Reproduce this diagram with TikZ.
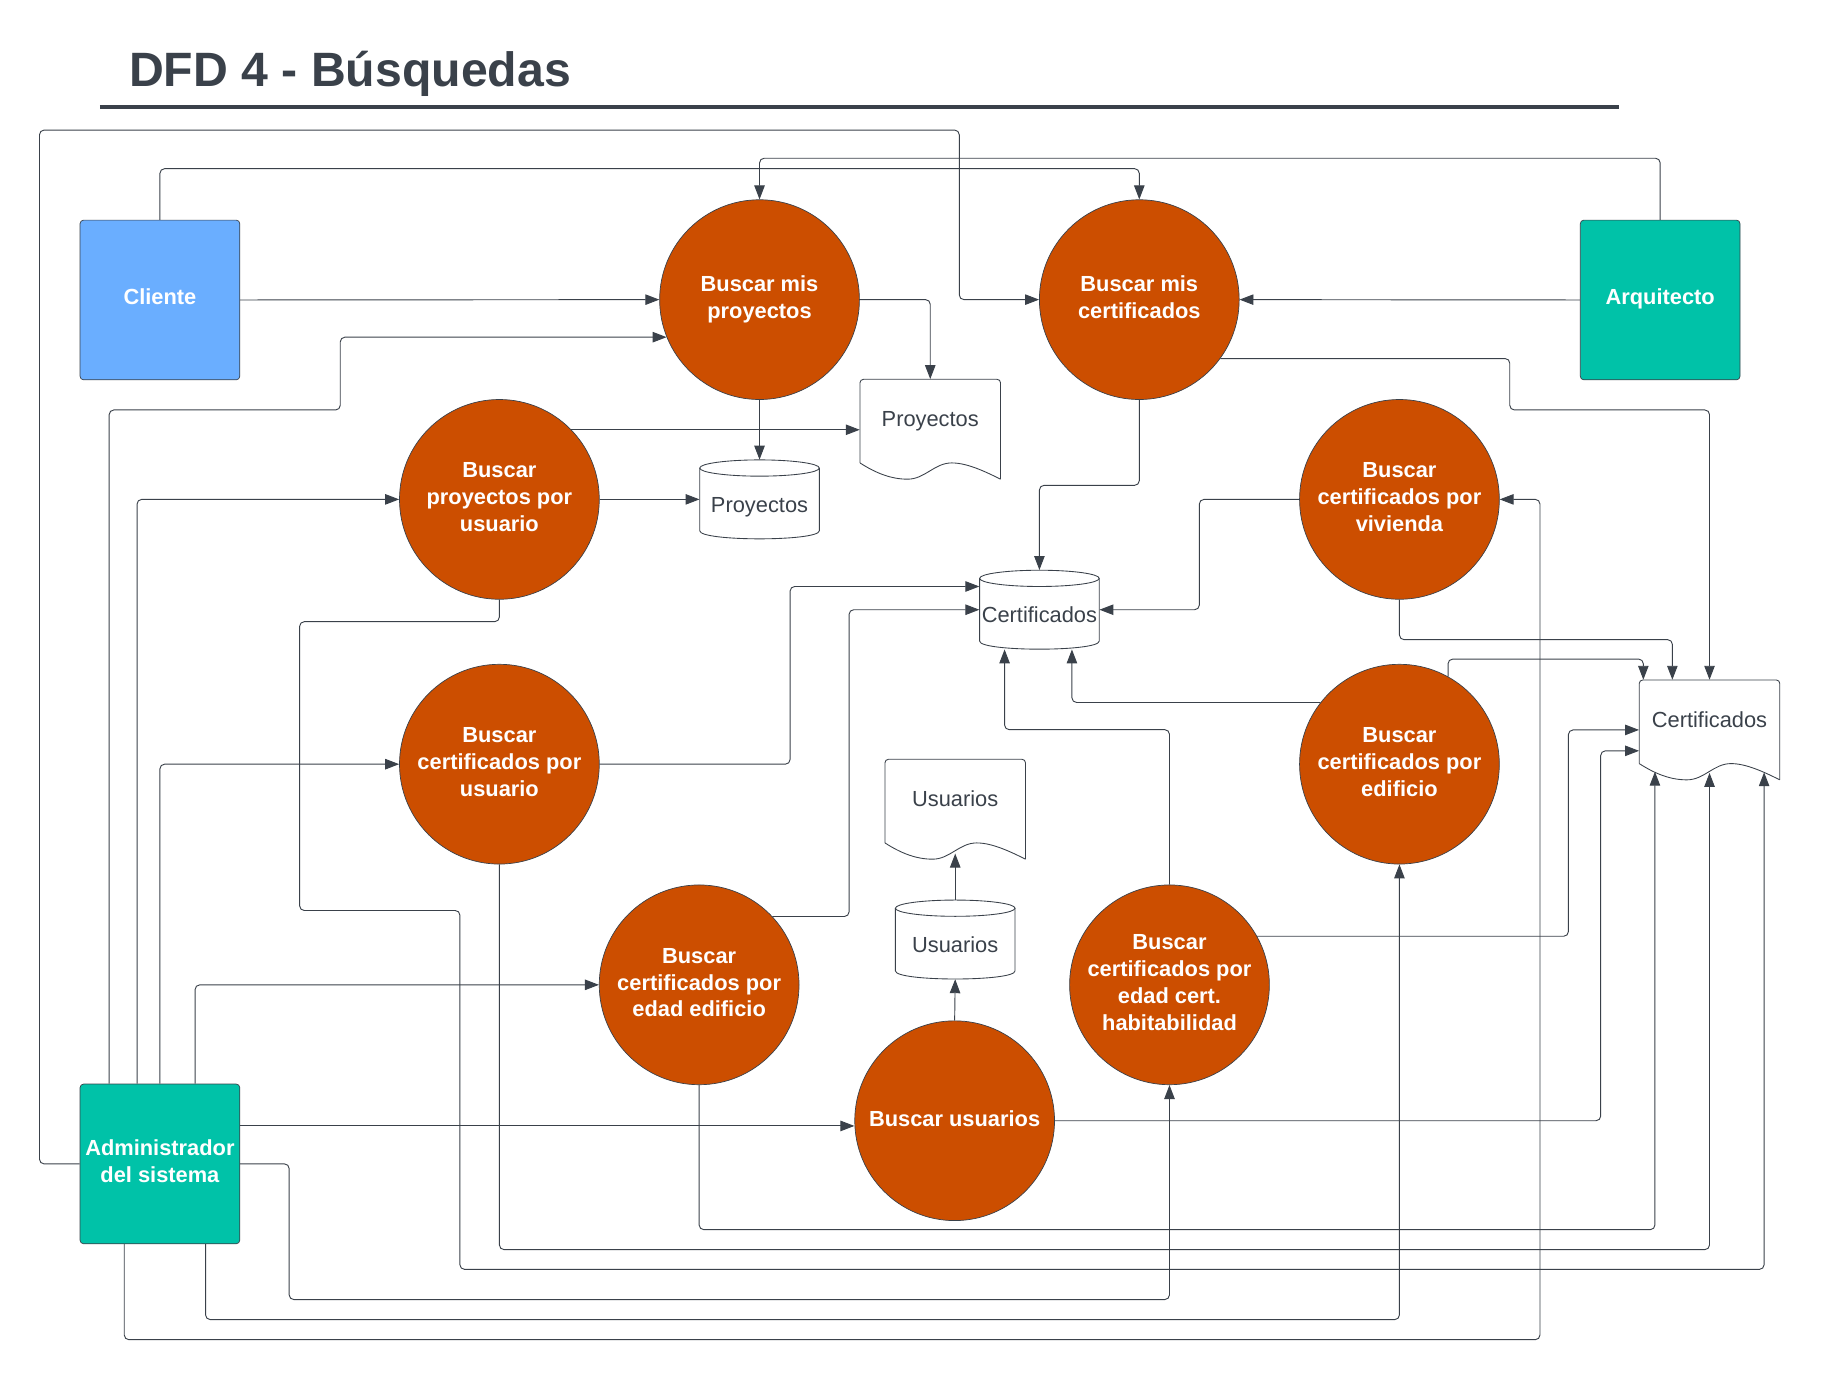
\documentclass[tikz,border=0pt]{standalone}
\usepackage{fontspec}
\setmainfont{Liberation Sans}
\usetikzlibrary{arrows.meta}

\definecolor{inkgray}{HTML}{3A414A}
\definecolor{procorange}{HTML}{CC4E00}
\definecolor{clientblue}{HTML}{6AAEFF}
\definecolor{actorteal}{HTML}{00C2A8}

\tikzset{
  proc/.style={circle, draw=inkgray, line width=0.6pt, fill=procorange, minimum size=172pt, inner sep=0pt,
    align=center, text=white, text depth=4pt, font=\fontsize{18.8}{23}\selectfont\bfseries},
  actor/.style={rectangle, rounded corners=3pt, draw=inkgray, line width=0.6pt, minimum width=137.5pt,
    minimum height=137.5pt, inner sep=0pt, align=center, text=white, text depth=5pt,
    font=\fontsize{18.8}{23}\selectfont\bfseries},
  cylbox/.style={minimum width=103pt, minimum height=68pt, inner sep=0pt, text=inkgray,
    text height=26.5pt, text depth=4pt, font=\fontsize{18.8}{23}\selectfont},
  docbox/.style={minimum width=121pt, minimum height=68pt, inner sep=0pt, text=inkgray,
    text height=17.5pt, text depth=4pt, font=\fontsize{18.8}{23}\selectfont},
  storeline/.style={draw=inkgray, line width=0.75pt},
  flow/.style={draw=inkgray, line width=0.8pt, rounded corners=4pt, -{Triangle[length=12pt,width=9pt]}},
}

% document store: left x, top y
\newcommand\drawdoc[2]{%
  \draw[storeline, rounded corners=3pt] (#1,#2+72) -- (#1,#2) -- (#1+121,#2) -- (#1+121,#2+86);
  \draw[storeline] (#1,#2+72) .. controls (#1+14,#2+81) and (#1+27,#2+86) .. (#1+41,#2+86)
    .. controls (#1+56,#2+86) and (#1+64,#2+72) .. (#1+79,#2+72)
    .. controls (#1+92,#2+72) and (#1+107,#2+79) .. (#1+121,#2+86);
}
% database: centre x, top y
\newcommand\drawcyl[2]{%
  \draw[storeline] (#1-51.5,#2+7) -- (#1-51.5,#2+61) .. controls (#1-51.5,#2+70.3) and (#1+51.5,#2+70.3) .. (#1+51.5,#2+61) -- (#1+51.5,#2+7);
  \draw[storeline] (#1,#2+7) ellipse [x radius=51.5, y radius=7];
}

\begin{document}
\begin{tikzpicture}[x=1pt, y=-1pt]
\useasboundingbox (0,0) rectangle (1568,1188);

% title
\node[anchor=base west, inner sep=0pt, text=inkgray, font=\fontsize{41.5}{48}\selectfont\bfseries] (title) at (111,74.6) {DFD 4 - Búsquedas};
\draw[inkgray, line width=3pt] (86,92) -- (1394,92);

% external entities
\node[actor, fill=clientblue] (cliente) at (137.7,258.3) {Cliente};
\node[actor, fill=actorteal] (arq) at (1429.5,258.3) {Arquitecto};
\node[actor, fill=actorteal] (admin) at (137.7,1002.2) {Administrador\\del sistema};

% processes
\node[proc] (p1) at (654,258) {Buscar mis\\proyectos};
\node[proc] (p2) at (981,258) {Buscar mis\\certificados};
\node[proc] (p3) at (430,430) {Buscar\\proyectos por\\usuario};
\node[proc] (p4) at (1205,430) {Buscar\\certificados por\\vivienda};
\node[proc] (p5) at (430,658) {Buscar\\certificados por\\usuario};
\node[proc] (p6) at (1205,658) {Buscar\\certificados por\\edificio};
\node[proc] (p7) at (602,848) {Buscar\\certificados por\\edad edificio};
\node[proc] (p8) at (1007,848) {Buscar\\certificados por\\edad cert.\\habitabilidad};
\node[proc] (p9) at (822,965) {Buscar usuarios};

% data stores
\drawdoc{740.5}{326.6}
\node[docbox] (projdoc) at (801,360.6) {Proyectos};
\drawcyl{654}{396}
\node[cylbox] (projdb) at (654,430) {Proyectos};
\drawcyl{895}{491}
\node[cylbox] (certdb) at (895,525) {Certificados};
\drawdoc{1411.5}{585.5}
\node[docbox] (certdoc) at (1472,619.5) {Certificados};
\drawdoc{762}{653.8}
\node[docbox] (userdoc) at (822.5,687.8) {Usuarios};
\drawcyl{822.5}{775}
\node[cylbox] (userdb) at (822.5,809) {Usuarios};

\coordinate (cdbot1) at (1425,664.5);
\coordinate (cdbot2) at (1472,665.5);
\coordinate (cdbot3) at (1519,665);

% flows from the entities
\draw[flow] (cliente.east) -- (p1.west);
\draw[flow] (cliente.north) -- ++(0,-44) -| (p2.north);
\draw[flow] (arq.north) -- ++(0,-53) -| (p1.north);
\draw[flow] (arq.west) -- (p2.east);
\draw[flow] (admin.west) -| (34,112) -| (826,258) -- (p2.west);
\draw[flow] (94,0 |- admin.north) |- (293,353) |- (p1.202);
\draw[flow] (118,0 |- admin.north) |- (p3.west);
\draw[flow] (admin.north) |- (p5.west);
\draw[flow] (168,0 |- admin.north) |- (p7.west);
\draw[flow] (0,969.5 -| admin.east) -- (0,969.5 -| p9.west);
\draw[flow] (admin.east) -| (249,1119) -| (p8.south);
\draw[flow] (177,0 |- admin.south) -- ++(0,65) -| (p6.south);
\draw[flow] (107,0 |- admin.south) -- ++(0,82.3) -| (1326,430) -- (p4.east);

% flows from the processes
\draw[flow] (p1.east) -| (projdoc.north);
\draw[flow] (p1.south) -- (projdb.north);
\draw[flow] (p2.south) -- ++(0,73.6) -| (certdb.north);
\draw[flow] (p2.-36) -| (1300,353) -| (certdoc.north);
\draw[flow] (p3.44) -- (p3.44 -| projdoc.west);
\draw[flow] (p3.east) -- (projdb.west);
\draw[flow] (p3.south) -- ++(0,19) -| (258,784) -| (396,1093) -| (cdbot3);
\draw[flow] (p4.west) -- ++(-86,0) |- (certdb.east);
\draw[flow] (p4.south) -- ++(0,34.5) -| ([xshift=-32]certdoc.north);
\draw[flow] (p5.east) -- ++(164,0) |- ([yshift=20]certdb.west);
\draw[flow] (p5.south) -- ++(0,331.7) -| (cdbot2);
\draw[flow] (p6.142) -| ([xshift=28]certdb.south);
\draw[flow] (p6.61) -- ++(0,-15) -| ([xshift=-57]certdoc.north);
\draw[flow] (p7.43) -- ++(66,0) |- (certdb.west);
\draw[flow] (p7.south) -- ++(0,124.5) -| (cdbot1);
\draw[flow] (p8.north) -- ++(0,-133.4) -| ([xshift=-30]certdb.south);
\draw[flow] (p8.29) -- ++(268,0) |- ([yshift=-9]certdoc.west);
\draw[flow] (p9.north) -- (userdb.south);
\draw[flow] (userdb.north) -- ([yshift=-13]userdoc.south);
\draw[flow] (p9.east) -- ++(470,0) |- ([yshift=-27]certdoc.west);
\end{tikzpicture}
\end{document}
